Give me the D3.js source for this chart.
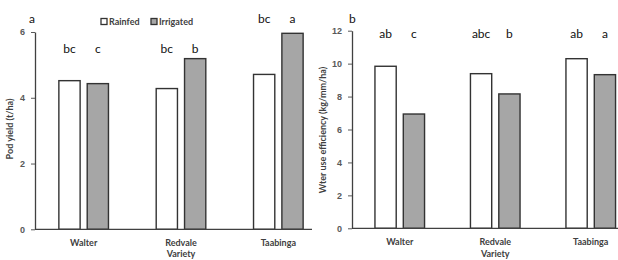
<!DOCTYPE html>
<html>
<head>
<meta charset="utf-8">
<script src="https://cdn.jsdelivr.net/npm/d3@7"></script>
<style>
  body { margin: 0; background: #fff; }
  svg { display: block; font-family: Lato, "Open Sans", sans-serif; }
  .tick text { fill: #595959; font-size: 9px; font-weight: bold; }
  .cat text { fill: #404040; font-size: 9px; }
</style>
</head>
<body>
<div id="chart"></div>
<script>
let width = 618, height = 260;

let varieties = ["Walter", "Redvale", "Taabinga"];
let series = ["Rainfed", "Irrigated"];

// pod yield (t/ha)
let yieldRainfed = [4.52, 4.28, 4.71];
let yieldIrrigated = [4.43, 5.19, 5.96];
let yieldLetters = [["bc", "c"], ["bc", "b"], ["bc", "a"]];
let yieldLetterLevel = [5.37, 5.37, 6.28];
let yieldTicks = [0, 2, 4, 6];

// water use efficiency (kg/mm/ha)
let wueRainfed = [9.84, 9.39, 10.30];
let wueIrrigated = [6.94, 8.16, 9.33];
let wueLetters = [["ab", "c"], ["abc", "b"], ["ab", "a"]];
let wueLetterLevel = [11.56, 11.56, 11.56];
let wueTicks = [0, 2, 4, 6, 8, 10, 12];

let color = d3.scaleOrdinal().domain(series).range(["#ffffff", "#a6a6a6"]);

let svg = d3.select("#chart").append("svg")
  .attr("width", width)
  .attr("height", height);

function panel(opts) {
  let g = svg.append("g");

  let x0 = d3.scaleBand()
    .domain(varieties)
    .range(opts.xRange)
    .padding(0);

  let x1 = d3.scaleBand()
    .domain(series)
    .range([-24.8, 24.8])
    .paddingInner(0.25);

  let y = d3.scaleLinear()
    .domain([0, d3.max(opts.ticks)])
    .range(opts.yRange);

  let rows = varieties.map((v, i) => ({
    variety: v,
    values: [
      { key: "Rainfed", value: opts.rainfed[i], letter: opts.letters[i][0] },
      { key: "Irrigated", value: opts.irrigated[i], letter: opts.letters[i][1] }
    ],
    level: opts.level[i]
  }));

  // y axis
  let yAxis = g.append("g")
    .attr("transform", `translate(${opts.xRange[0]},0)`)
    .call(d3.axisLeft(y).tickValues(opts.ticks).tickFormat(d3.format("d"))
      .tickSize(4).tickSizeOuter(0).tickPadding(6));
  yAxis.selectAll("line").attr("stroke", "#595959");
  yAxis.select(".domain").attr("stroke", "#404040").attr("stroke-width", 1.3);

  // bars
  let groups = g.selectAll("g.grp")
    .data(rows)
    .enter()
    .append("g")
    .attr("class", "grp")
    .attr("transform", d => `translate(${x0(d.variety) + x0.bandwidth() / 2},0)`);

  groups.selectAll("rect")
    .data(d => d.values)
    .enter()
    .append("rect")
    .attr("x", d => x1(d.key))
    .attr("y", d => y(d.value))
    .attr("width", x1.bandwidth())
    .attr("height", d => y(0) - y(d.value))
    .attr("fill", d => color(d.key))
    .attr("stroke", "#333")
    .attr("stroke-width", 1.4);

  groups.selectAll("text.sig")
    .data(d => d.values.map(v => ({ ...v, level: d.level })))
    .enter()
    .append("text")
    .attr("class", "sig")
    .attr("x", d => x1(d.key) + x1.bandwidth() / 2)
    .attr("y", d => y(d.level))
    .attr("text-anchor", "middle")
    .attr("font-size", 12)
    .attr("fill", "#111")
    .text(d => d.letter);

  // x axis baseline and labels
  g.append("line")
    .attr("x1", opts.xRange[0])
    .attr("x2", opts.baseEnd)
    .attr("y1", y(0))
    .attr("y2", y(0))
    .attr("stroke", "#404040")
    .attr("stroke-width", 1.3);

  g.append("g")
    .attr("class", "cat")
    .selectAll("text")
    .data(varieties)
    .enter()
    .append("text")
    .attr("x", d => x0(d) + x0.bandwidth() / 2)
    .attr("y", y(0) + 17)
    .attr("text-anchor", "middle")
    .attr("font-weight", "bold")
    .text(d => d);

  g.append("text")
    .attr("x", x0("Redvale") + x0.bandwidth() / 2)
    .attr("y", 256.5)
    .attr("text-anchor", "middle")
    .attr("font-size", 9)
    .attr("font-weight", "bold")
    .attr("fill", "#404040")
    .text("Variety");

  g.append("text")
    .attr("transform", `translate(${opts.labelX},${opts.labelY}) rotate(-90)`)
    .attr("text-anchor", "middle")
    .attr("font-size", 9)
    .attr("font-weight", "bold")
    .attr("fill", "#404040")
    .text(opts.yLabel);

  g.append("text")
    .attr("x", opts.tagX)
    .attr("y", 23)
    .attr("font-size", 12)
    .attr("fill", "#111")
    .text(opts.tag);

  return g;
}

panel({
  xRange: [35, 327], baseEnd: 312, yRange: [229.3, 32],
  rainfed: yieldRainfed, irrigated: yieldIrrigated,
  letters: yieldLetters, level: yieldLetterLevel, ticks: yieldTicks,
  yLabel: "Pod yield (t/ha)", labelX: 13, labelY: 129,
  tag: "a", tagX: 29
});

panel({
  xRange: [352, 638.5], baseEnd: 618, yRange: [228.3, 30.7],
  rainfed: wueRainfed, irrigated: wueIrrigated,
  letters: wueLetters, level: wueLetterLevel, ticks: wueTicks,
  yLabel: "Wter use efficiency (kg/mm/ha)", labelX: 326, labelY: 130,
  tag: "b", tagX: 349
});

// legend
let legend = svg.append("g").attr("transform", "translate(101,22)");
let lx = [0, 50];
series.forEach((s, i) => {
  legend.append("rect")
    .attr("x", lx[i])
    .attr("y", -3.5)
    .attr("width", 6)
    .attr("height", 6)
    .attr("fill", color(s))
    .attr("stroke", "#333")
    .attr("stroke-width", 1.3);
  legend.append("text")
    .attr("x", lx[i] + 8)
    .attr("y", 3)
    .attr("font-size", 9)
    .attr("font-weight", "bold")
    .attr("fill", "#404040")
    .text(s);
});
</script>
</body>
</html>
